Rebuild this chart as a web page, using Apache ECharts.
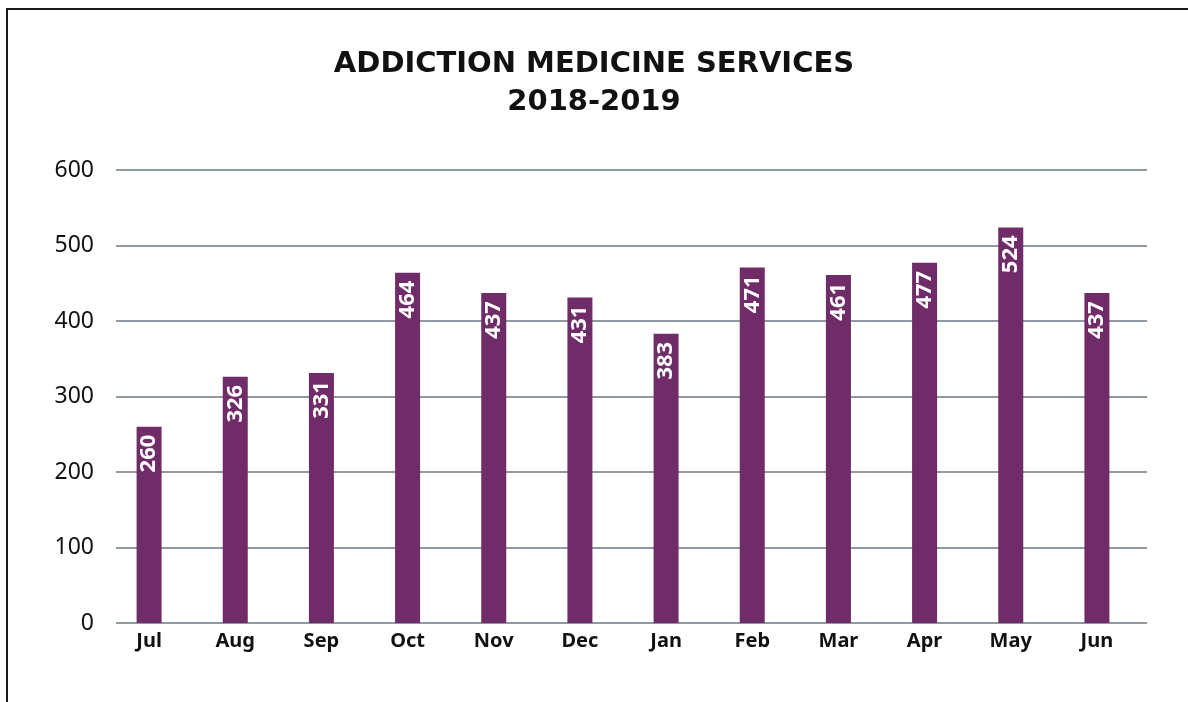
<!DOCTYPE html>
<html>
<head>
<meta charset="utf-8">
<title>Addiction Medicine Services 2018-2019</title>
<script src="https://cdn.jsdelivr.net/npm/echarts@6/dist/echarts.min.js"></script>
<style>
  html, body { margin: 0; padding: 0; background: #ffffff; }
  #chart { width: 1188px; height: 702px; }
</style>
</head>
<body>
<div id="chart"></div>
<script>
// Monthly service counts, fiscal year July 2018 - June 2019
const months = ['Jul', 'Aug', 'Sep', 'Oct', 'Nov', 'Dec', 'Jan', 'Feb', 'Mar', 'Apr', 'May', 'Jun'];
const services = [260, 326, 331, 464, 437, 431, 383, 471, 461, 477, 524, 437];
const yTicks = [0, 100, 200, 300, 400, 500, 600];

const titleText = 'ADDICTION MEDICINE SERVICES\n2018-2019';
const FONT = '"Noto Sans", "Open Sans", sans-serif';
const TITLE_FONT = '"DejaVu Sans", "Noto Sans", sans-serif';
const BAR_COLOR = '#702b69';
const GRID_COLOR = '#6b7683';

const yMin = yTicks[0];
const yMax = yTicks[yTicks.length - 1];
const yStep = yTicks[1] - yTicks[0];

const chart = echarts.init(document.getElementById('chart'), null, { renderer: 'canvas' });

chart.setOption({
  backgroundColor: '#ffffff',
  animation: false,
  title: {
    text: titleText,
    left: 'center',
    top: 45,
    padding: 0,
    textStyle: {
      fontFamily: TITLE_FONT,
      fontSize: 29,
      fontWeight: 'bold',
      color: '#111111',
      lineHeight: 38,
      align: 'center'
    }
  },
  grid: [
    // bars and month labels
    { left: 106, right: 48, top: 170, bottom: 79, containLabel: false },
    // value gridlines and tick labels
    { left: 116, right: 41, top: 170, bottom: 79, containLabel: false }
  ],
  xAxis: [
    {
      type: 'category',
      gridIndex: 0,
      data: months,
      axisLine: { show: false },
      axisTick: { show: false },
      axisLabel: {
        fontFamily: FONT,
        fontSize: 20,
        fontWeight: 'bold',
        color: '#111111',
        margin: 8
      }
    },
    {
      type: 'value',
      gridIndex: 1,
      min: 0,
      max: 1,
      show: false
    }
  ],
  yAxis: [
    {
      type: 'value',
      gridIndex: 0,
      min: yMin,
      max: yMax,
      interval: yStep,
      show: false
    },
    {
      type: 'value',
      gridIndex: 1,
      min: yMin,
      max: yMax,
      interval: yStep,
      axisLine: { show: false },
      axisTick: { show: false },
      axisLabel: {
        fontFamily: FONT,
        fontSize: 23,
        color: '#111111',
        margin: 22
      },
      splitLine: {
        show: true,
        lineStyle: { color: GRID_COLOR, width: 1.5 }
      }
    }
  ],
  series: [
    {
      type: 'bar',
      xAxisIndex: 0,
      yAxisIndex: 0,
      data: services,
      barWidth: 25,
      z: 3,
      itemStyle: { color: BAR_COLOR },
      label: {
        show: true,
        position: 'insideTop',
        distance: 8,
        rotate: 90,
        align: 'right',
        verticalAlign: 'middle',
        fontFamily: FONT,
        fontSize: 22,
        fontWeight: 'bold',
        color: '#ffffff'
      }
    }
  ],
  graphic: [
    {
      type: 'polyline',
      shape: { points: [[7, 702], [7, 9], [1188, 9]] },
      style: { stroke: '#1a1a1a', lineWidth: 2, fill: null },
      silent: true
    }
  ]
});
</script>
</body>
</html>
